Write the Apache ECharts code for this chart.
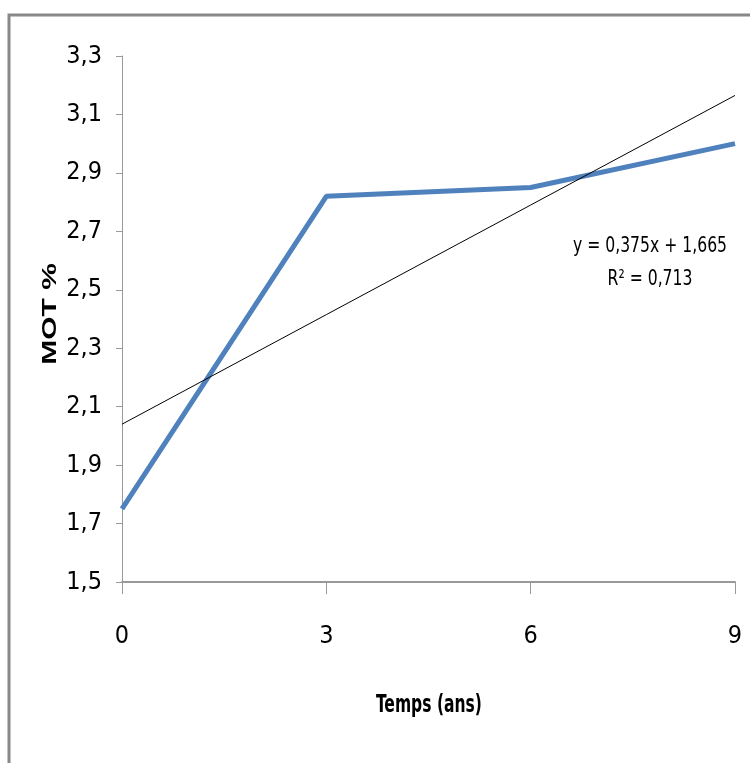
<!DOCTYPE html>
<html>
<head>
<meta charset="utf-8">
<script src="https://cdn.jsdelivr.net/npm/echarts@6/dist/echarts.min.js"></script>
<style>
html,body{margin:0;padding:0;background:#fff;}
#chart{width:750px;height:763px;}
</style>
</head>
<body>
<div id="chart"></div>
<script>
const categories = ['0', '3', '6', '9'];
const motValues = [1.75, 2.82, 2.85, 3.0];
const trendValues = [2.04, 2.415, 2.79, 3.165];
const yTicks = [1.5, 3.3, 0.2];
const equationLines = ['y = 0,375x + 1,665', 'R² = 0,713'];
const xTitle = 'Temps (ans)';
const yTitle = 'MOT %';

const narrow = "'Liberation Sans Narrow', 'DejaVu Sans Condensed', sans-serif";
const chart = echarts.init(document.getElementById('chart'));
chart.setOption({
  animation: false,
  backgroundColor: '#fff',
  grid: { left: 122, right: 15, top: 56, bottom: 181 },
  xAxis: {
    type: 'category',
    data: categories,
    boundaryGap: false,
    axisLine: { lineStyle: { color: '#999', width: 2 } },
    axisTick: { show: true, length: 12, alignWithLabel: true, lineStyle: { color: '#999', width: 1 } },
    axisLabel: { margin: 42, fontFamily: narrow, fontSize: 25, color: '#000' },
    splitLine: { show: false }
  },
  yAxis: {
    type: 'value',
    min: yTicks[0],
    max: yTicks[1],
    interval: yTicks[2],
    axisLine: { show: true, lineStyle: { color: '#999', width: 1 } },
    axisTick: { show: true, length: 6, lineStyle: { color: '#999' } },
    axisLabel: {
      margin: 20, fontFamily: narrow, fontSize: 25, color: '#000',
      formatter: v => v.toFixed(1).replace('.', ',')
    },
    splitLine: { show: false }
  },
  series: [
    {
      type: 'line',
      data: motValues,
      symbol: 'none',
      lineStyle: { color: '#4F81BD', width: 5 },
      z: 2
    },
    {
      type: 'line',
      data: trendValues,
      symbol: 'none',
      lineStyle: { color: '#000', width: 1 },
      z: 3
    }
  ],
  graphic: [
    {
      type: 'rect',
      shape: { x: 9, y: 15, width: 760, height: 770 },
      style: { fill: 'none', stroke: '#888', lineWidth: 3 },
      silent: true
    },
    {
      type: 'text', x: 650, y: 246, scaleX: 0.79,
      style: { text: equationLines[0], fontFamily: narrow, fontSize: 22, fill: '#000', align: 'center', verticalAlign: 'middle' }
    },
    {
      type: 'text', x: 650, y: 279, scaleX: 0.79,
      style: { text: equationLines[1], fontFamily: narrow, fontSize: 22, fill: '#000', align: 'center', verticalAlign: 'middle' }
    },
    {
      type: 'text', x: 429, y: 706, scaleX: 0.72,
      style: { text: xTitle, fontFamily: narrow, fontWeight: 'bold', fontSize: 24, fill: '#000', align: 'center', verticalAlign: 'middle' }
    },
    {
      type: 'text', x: 50, y: 314, rotation: Math.PI / 2, scaleX: 1.5,
      style: { text: yTitle, fontFamily: "'Liberation Sans', Arial, sans-serif", fontWeight: 'bold', fontSize: 20, fill: '#000', align: 'center', verticalAlign: 'middle' }
    }
  ]
});
</script>
</body>
</html>
